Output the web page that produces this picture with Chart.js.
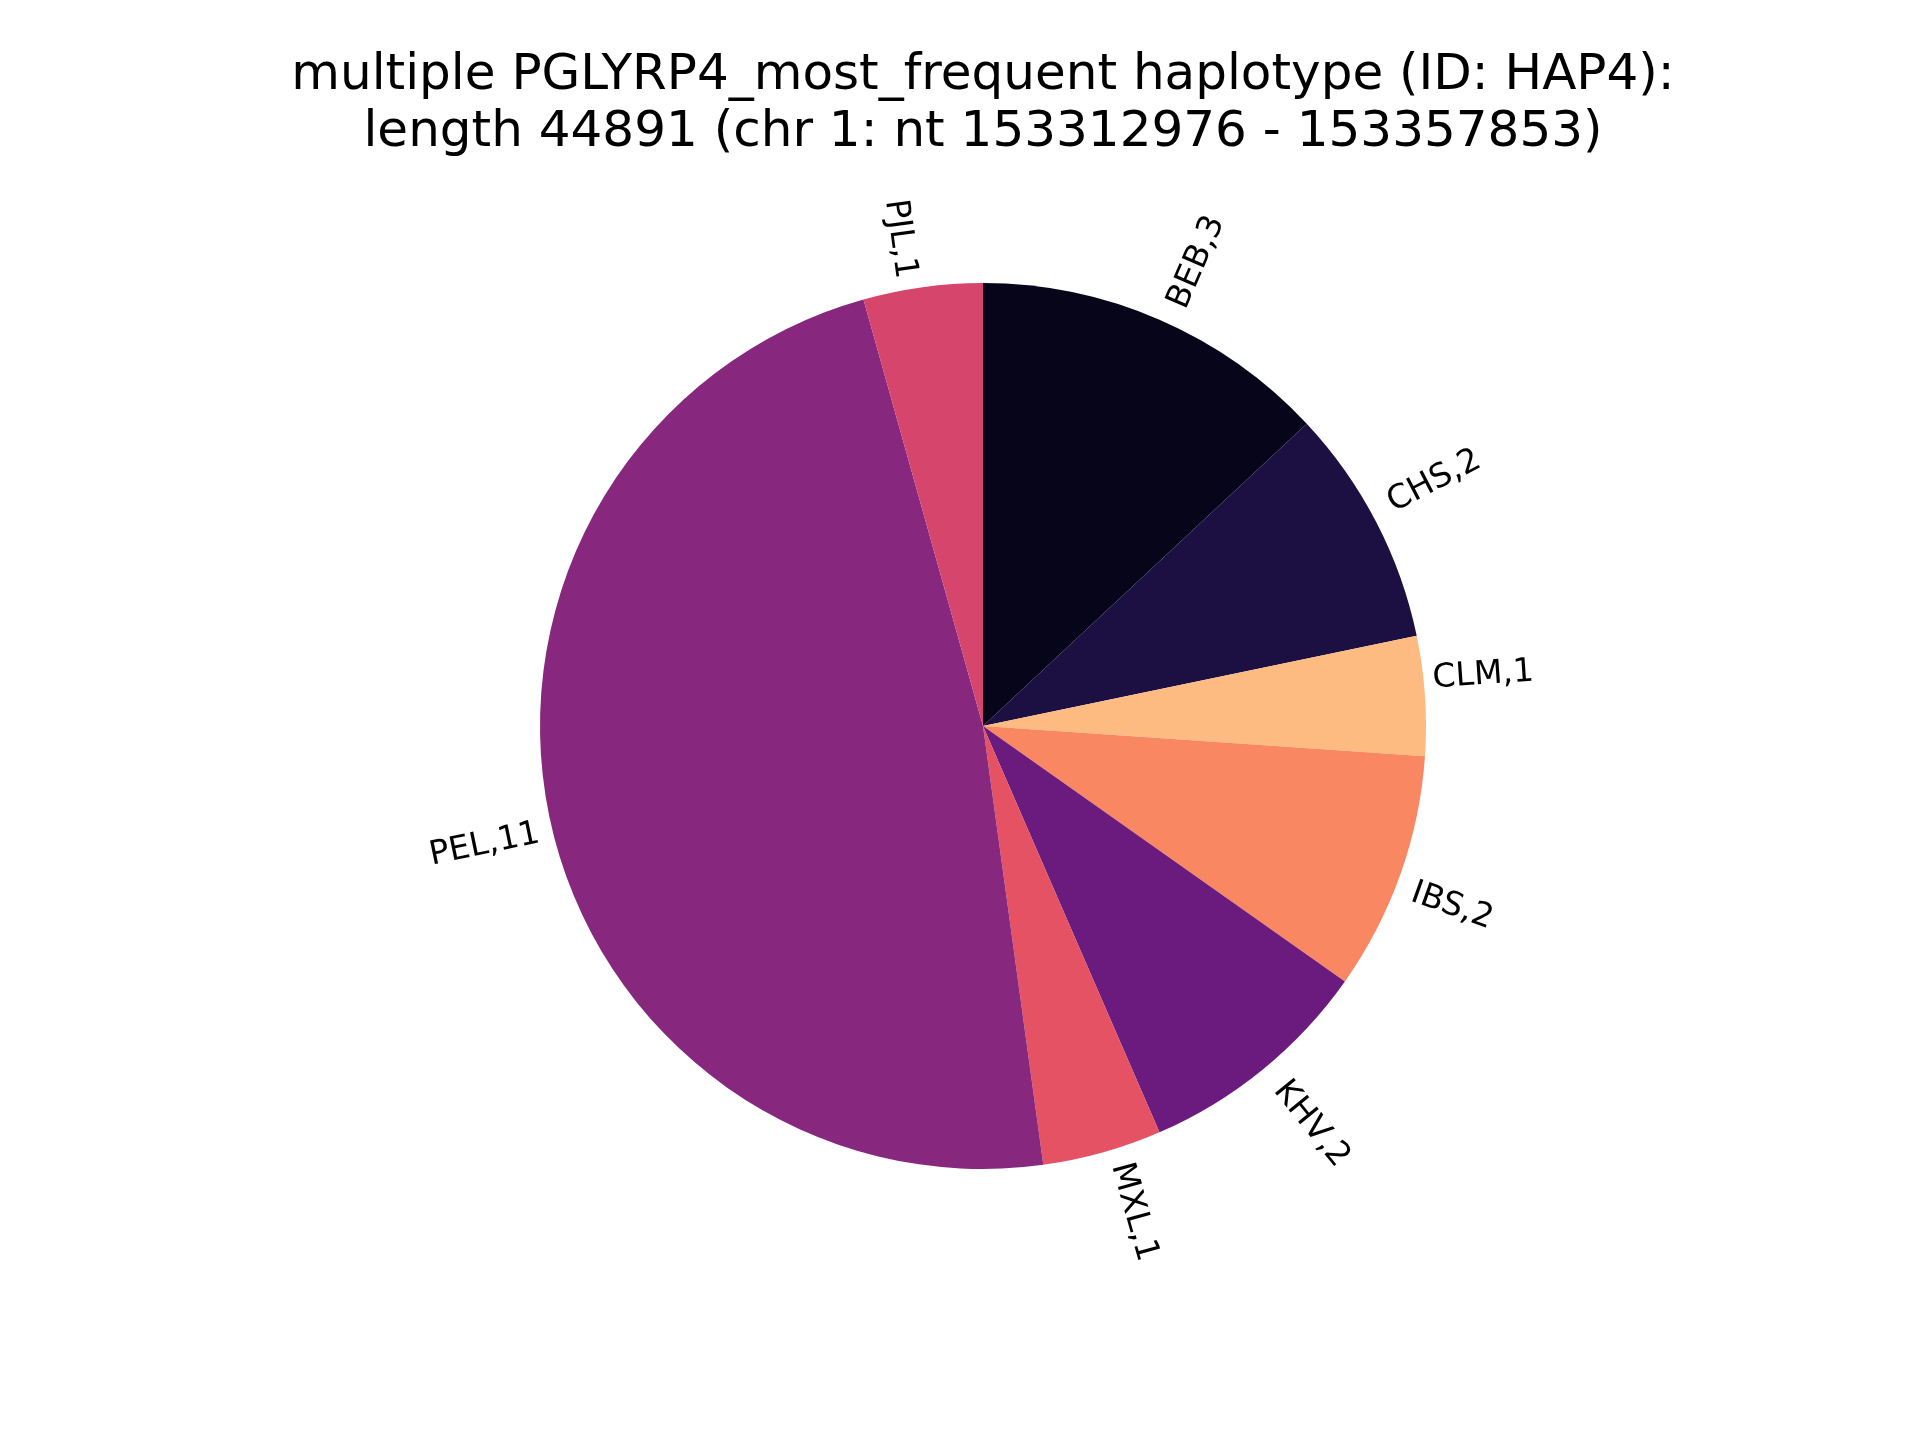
<!DOCTYPE html>
<html>
<head>
<meta charset="utf-8">
<script src="https://cdn.jsdelivr.net/npm/chart.js@4"></script>
<style>
    html, body { margin: 0; padding: 0; background: #ffffff; }
    #wrap { width: 1920px; height: 1440px; }
</style>
</head>
<body>
<div id="wrap"><canvas id="pieChart" width="1920" height="1440"></canvas></div>
<script>
const populations = ['BEB', 'CHS', 'CLM', 'IBS', 'KHV', 'MXL', 'PEL', 'PJL'];
const counts = [3, 2, 1, 2, 2, 1, 11, 1];
const sliceColors = ['#06051a', '#1c1042', '#febb81', '#f98762', '#6b1b7e', '#e45263', '#87287e', '#d6466c'];
const titleLines = [
    'multiple PGLYRP4_most_frequent haplotype (ID: HAP4):',
    'length 44891 (chr 1: nt 153312976 - 153357853)'
];

// rotated labels just outside each slice; the rotated text box is pinned to the
// anchor by its near side (left/right) and bottom/top, the way matplotlib does it
const sliceLabels = {
    id: 'sliceLabels',
    afterDatasetsDraw(chart) {
        const ctx = chart.ctx;
        const arcs = chart.getDatasetMeta(0).data;
        const fs = 33;
        const asc = 0.76 * fs, desc = 0.24 * fs;
        ctx.save();
        ctx.font = fs + 'px "DejaVu Sans"';
        ctx.fillStyle = '#000000';
        ctx.textBaseline = 'alphabetic';
        ctx.textAlign = 'left';
        arcs.forEach((arc, i) => {
            const mid = (arc.startAngle + arc.endAngle) / 2;
            const dist = arc.outerRadius * 1.015;
            const ax = arc.x + Math.cos(mid) * dist;
            const ay = arc.y + Math.sin(mid) * dist;
            const text = `${populations[i]},${counts[i]}`;
            const w = ctx.measureText(text).width;
            const right = Math.cos(mid) >= 0;
            const above = Math.sin(mid) < 0;
            const rot = right ? mid : mid + Math.PI;
            const c = Math.cos(rot), s = Math.sin(rot);
            const corners = [[0, -asc], [w, -asc], [0, desc], [w, desc]].map(p => [p[0] * c - p[1] * s, p[0] * s + p[1] * c]);
            const xs = corners.map(p => p[0]), ys = corners.map(p => p[1]);
            const tx = right ? ax - Math.min(...xs) : ax - Math.max(...xs);
            const ty = above ? ay - Math.max(...ys) : ay - Math.min(...ys);
            ctx.save();
            ctx.translate(tx, ty);
            ctx.rotate(rot);
            ctx.fillText(text, 0, 0);
            ctx.restore();
        });
        ctx.restore();
    }
};

const ctx = document.getElementById('pieChart').getContext('2d');
new Chart(ctx, {
    type: 'pie',
    data: {
        labels: populations,
        datasets: [{
            data: counts,
            backgroundColor: sliceColors,
            borderWidth: 0
        }]
    },
    options: {
        responsive: false,
        animation: false,
        radius: 443,
        layout: {
            padding: { left: 46, right: 0, top: 0, bottom: 158 }
        },
        plugins: {
            legend: { display: false },
            tooltip: { enabled: false },
            title: {
                display: true,
                text: titleLines,
                color: '#000000',
                font: { family: 'DejaVu Sans', size: 50, weight: 'normal', lineHeight: 1.14 },
                padding: { top: 48, bottom: 8 }
            }
        }
    },
    plugins: [sliceLabels]
});
</script>
</body>
</html>
